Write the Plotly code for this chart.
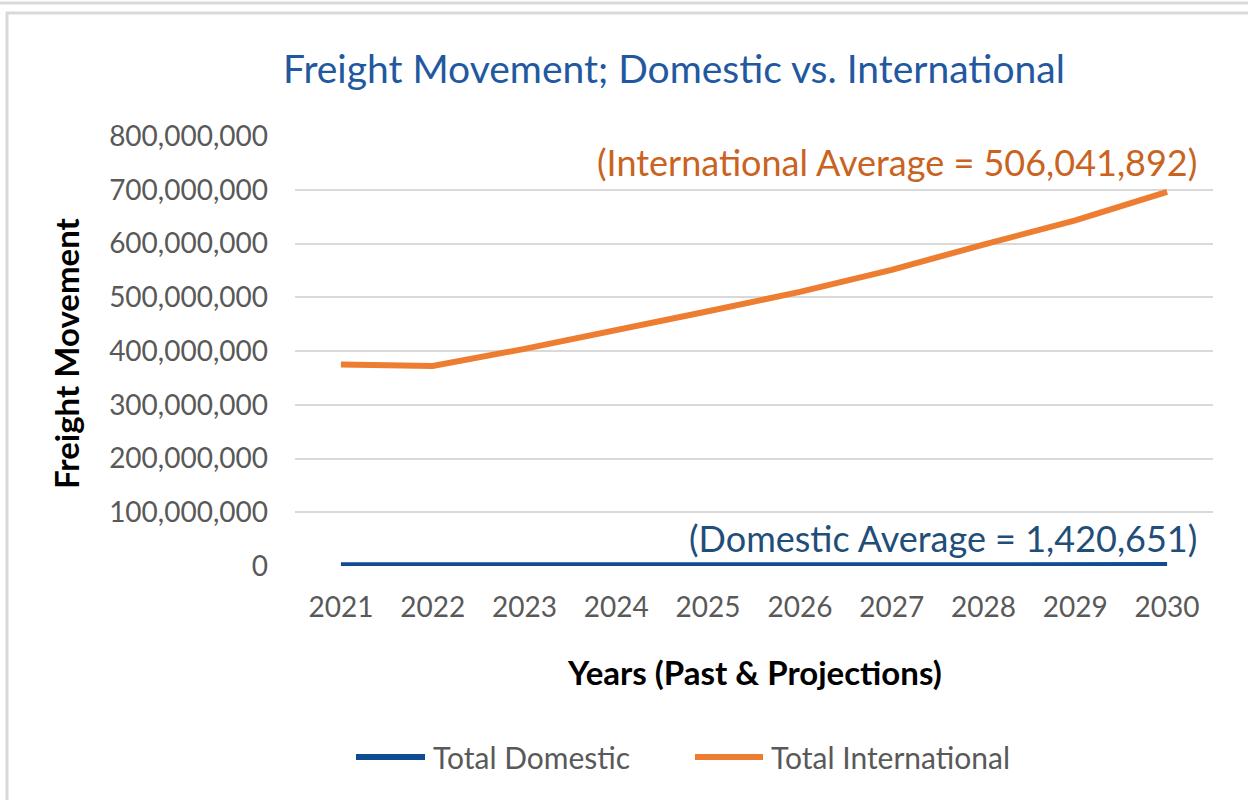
import plotly.graph_objects as go

years = ["2021", "2022", "2023", "2024", "2025", "2026", "2027", "2028", "2029", "2030"]
domestic = [1180000, 1220000, 1270000, 1320000, 1380000, 1440000, 1500000, 1560000, 1630000, 1700000]
international = [375e6, 372e6, 404e6, 438e6, 474e6, 510e6, 551e6, 598e6, 643e6, 696e6]
y_ticks = [0, 100e6, 200e6, 300e6, 400e6, 500e6, 600e6, 700e6, 800e6]
y_tick_labels = ["0", "100,000,000", "200,000,000", "300,000,000", "400,000,000",
                 "500,000,000", "600,000,000", "700,000,000", "800,000,000"]

C_DOM = "#0f4c92"
C_INT = "#ed7d31"
FONT = "Lato"
W, H = 1248, 800
L, R, T, B = 295, 1213, 136, 566
PW, PH = R - L, B - T


def px(x):
    return (x - L) / PW


def py(y):
    return (B - y) / PH


fig = go.Figure()
fig.add_trace(go.Scatter(x=years, y=domestic, mode="lines", name="Total Domestic",
                         line=dict(color=C_DOM, width=6), showlegend=False))
fig.add_trace(go.Scatter(x=years, y=international, mode="lines", name="Total International",
                         line=dict(color=C_INT, width=6), showlegend=False))

shapes = [
    dict(type="line", xref="paper", yref="paper", x0=px(0), x1=px(W), y0=py(3), y1=py(3),
         line=dict(color="#d9d9d9", width=3)),
    dict(type="line", xref="paper", yref="paper", x0=px(6), x1=px(W), y0=py(13), y1=py(13),
         line=dict(color="#d9d9d9", width=3)),
    dict(type="line", xref="paper", yref="paper", x0=px(7), x1=px(7), y0=py(12), y1=py(H),
         line=dict(color="#d9d9d9", width=3)),
    # legend samples
    dict(type="line", xref="paper", yref="paper", x0=px(356), x1=px(425), y0=py(757), y1=py(757),
         line=dict(color=C_DOM, width=6)),
    dict(type="line", xref="paper", yref="paper", x0=px(695), x1=px(763), y0=py(757), y1=py(757),
         line=dict(color=C_INT, width=6)),
]

annotations = [
    dict(text="Freight Movement; Domestic vs. International", xref="paper", yref="paper",
         x=px(674), y=py(68), showarrow=False, xanchor="center", yanchor="middle",
         font=dict(family=FONT, size=39, color="#2258a0")),
    dict(text="(International Average = 506,041,892)", xref="paper", yref="paper",
         x=px(1199), y=py(162), showarrow=False, xanchor="right", yanchor="middle",
         font=dict(family=FONT, size=36, color="#c9631f")),
    dict(text="(Domestic Average = 1,420,651)", xref="paper", yref="paper",
         x=px(1199), y=py(538), showarrow=False, xanchor="right", yanchor="middle",
         font=dict(family=FONT, size=36, color="#1f4e79")),
    dict(text="<b>Years (Past & Projections)</b>", xref="paper", yref="paper",
         x=px(754), y=py(672), showarrow=False, xanchor="center", yanchor="middle",
         font=dict(family=FONT, size=33, color="#000000")),
    dict(text="<b>Freight Movement</b>", xref="paper", yref="paper", textangle=-90,
         x=px(66), y=py(353), showarrow=False, xanchor="center", yanchor="middle",
         font=dict(family=FONT, size=33, color="#000000")),
    dict(text="Total Domestic", xref="paper", yref="paper",
         x=px(431), y=py(757), showarrow=False, xanchor="left", yanchor="middle",
         font=dict(family=FONT, size=30, color="#595959")),
    dict(text="Total International", xref="paper", yref="paper",
         x=px(769), y=py(757), showarrow=False, xanchor="left", yanchor="middle",
         font=dict(family=FONT, size=30, color="#595959")),
]

fig.update_layout(
    width=W, height=H,
    margin=dict(l=L, r=W - R, t=T, b=H - B, pad=0),
    paper_bgcolor="white", plot_bgcolor="white",
    font=dict(family=FONT, color="#595959", size=28),
    shapes=shapes, annotations=annotations,
    hovermode=False,
    xaxis=dict(type="category", showgrid=False, zeroline=False, showline=False,
               ticks="", tickfont=dict(size=28, color="#595959"), ticklabelstandoff=22,
               range=[-0.5, 9.5]),
    yaxis=dict(range=[0, 800e6], tickvals=y_ticks, ticktext=y_tick_labels,
               showgrid=True, gridcolor="#d9d9d9", gridwidth=1.5, zeroline=False,
               showline=False, ticks="", tickfont=dict(size=28, color="#595959"),
               ticklabelstandoff=26),
)

fig.write_html("out.html", config={"displayModeBar": False},
               post_script="document.body.style.margin='0';")
